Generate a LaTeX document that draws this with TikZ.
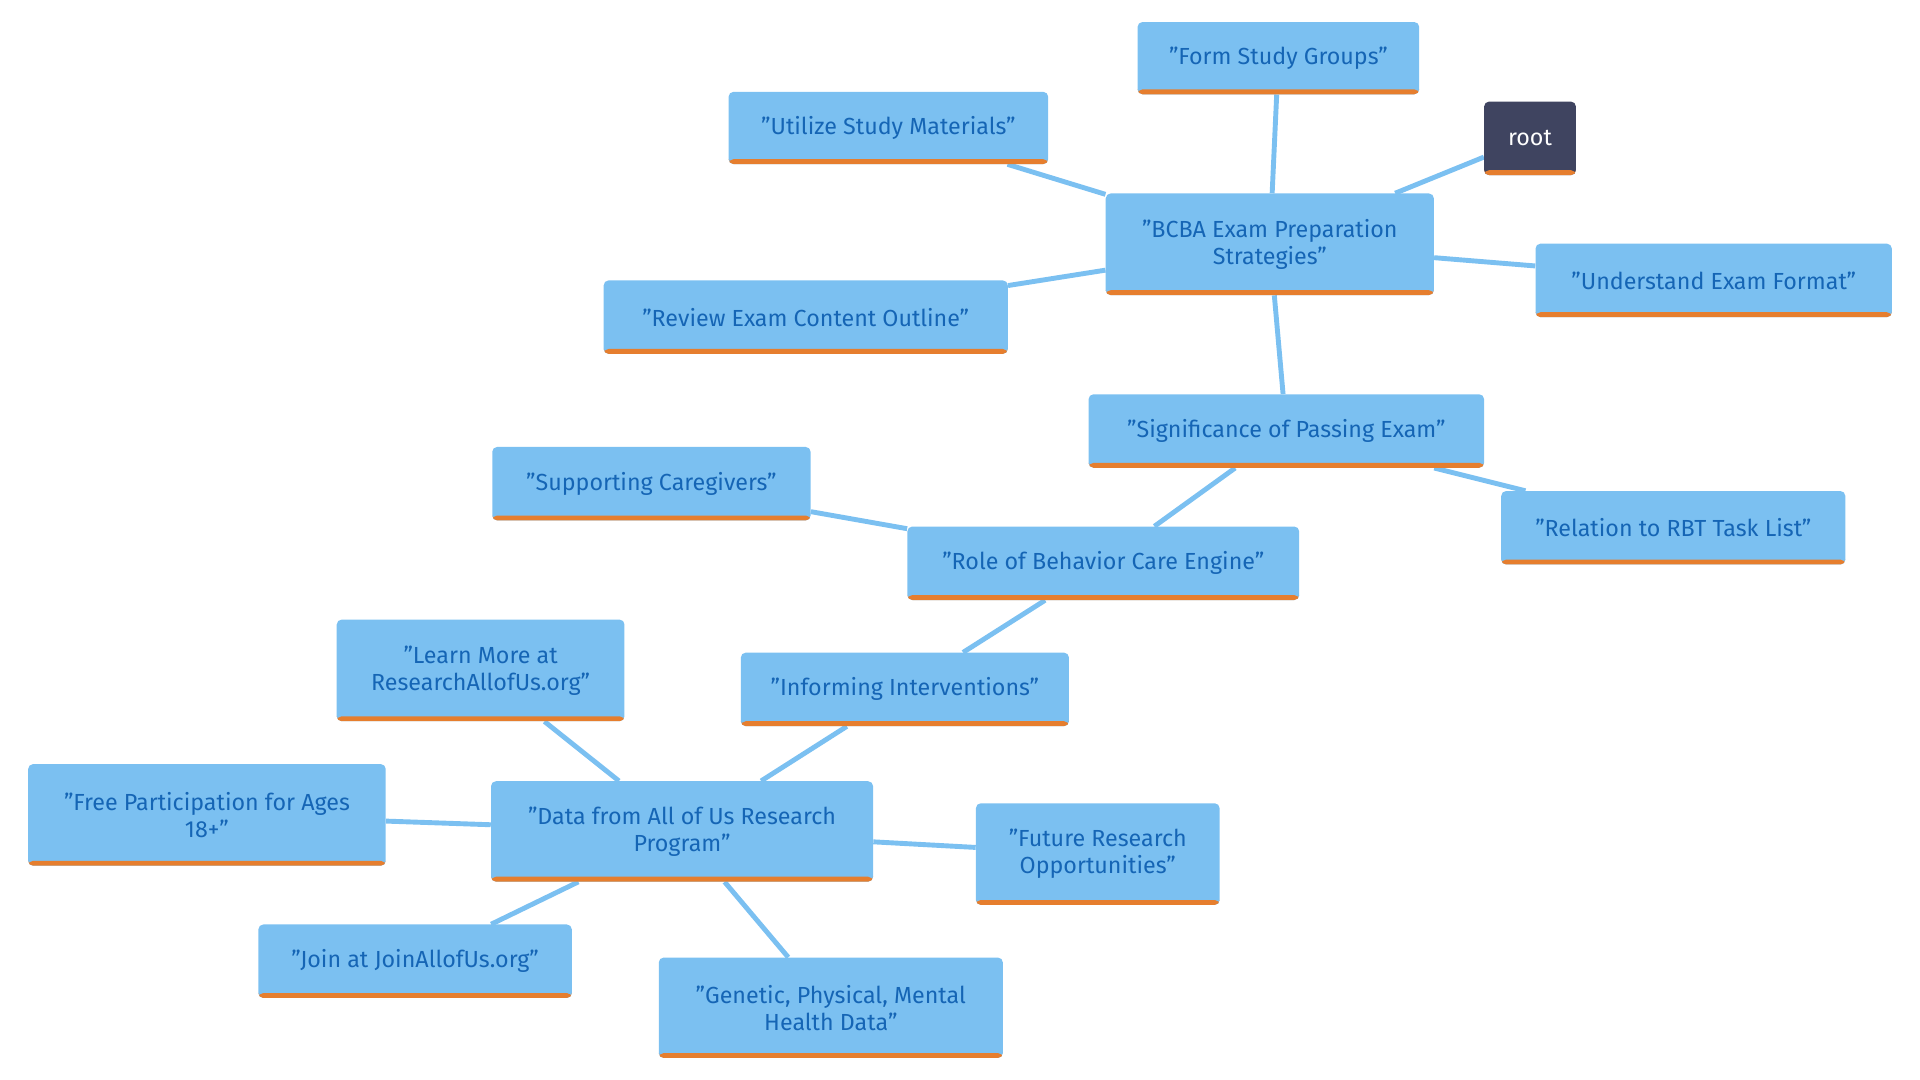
\documentclass[tikz,border=0pt]{standalone}
\usepackage{fontspec}
\setmainfont{Fira Sans}
\usetikzlibrary{backgrounds}
\definecolor{boxblue}{HTML}{7BC0F1}
\definecolor{txtblue}{HTML}{1565B5}
\definecolor{barorange}{HTML}{E67E2E}
\definecolor{rootgrey}{HTML}{3F4460}
\tikzset{
  box/.style={fill=boxblue,text=txtblue,rounded corners=4pt,inner sep=0pt,align=center,
    font=\fontsize{19}{22}\selectfont,
    path picture={\fill[barorange] ([yshift=4pt]path picture bounding box.south west) rectangle (path picture bounding box.south east);}},
  rootbox/.style={box,fill=rootgrey,text=white},
  link/.style={draw=boxblue,line width=4pt}
}
\newcommand{\bx}[6][box]{\node[#1,minimum width=#4pt,minimum height=#5pt] (#2) at (#3) {#6};}
\begin{document}
\begin{tikzpicture}[x=1pt,y=-1pt]
\useasboundingbox (0,0) rectangle (1568,882);
\bx[rootbox]{root}{1249.5,113}{75}{60}{root}
\bx{bcba}{1037,199.5}{268}{83}{"BCBA Exam Preparation\\Strategies"}
\bx{form}{1044,47.5}{230}{59}{"Form Study Groups"}
\bx{util}{725.5,104.5}{261}{59}{"Utilize Study Materials"}
\bx{review}{658,259}{330}{60}{"Review Exam Content Outline"}
\bx{underst}{1399.5,229}{291}{60}{"Understand Exam Format"}
\bx{signif}{1050.5,352}{323}{60}{"Significance of Passing Exam"}
\bx{relation}{1366.5,431}{281}{60}{"Relation to RBT Task List"}
\bx{role}{901,460}{320}{60}{"Role of Behavior Care Engine"}
\bx{support}{532,395}{260}{60}{"Supporting Caregivers"}
\bx{inform}{739,563}{268}{60}{"Informing Interventions"}
\bx{data}{557,679}{312}{82}{"Data from All of Us Research\\Program"}
\bx{learn}{392.5,547.5}{235}{83}{"Learn More at\\ResearchAllofUs.org"}
\bx{free}{169,665.5}{292}{83}{"Free Participation for Ages\\18+"}
\bx{future}{896.5,697.5}{199}{83}{"Future Research\\Opportunities"}
\bx{join}{339,785}{256}{60}{"Join at JoinAllofUs.org"}
\bx{genetic}{678.5,823}{281}{82}{"Genetic, Physical, Mental\\Health Data"}
\begin{scope}[on background layer]
\foreach \a/\b in {root/bcba,bcba/form,bcba/util,bcba/review,bcba/underst,bcba/signif,
  signif/relation,signif/role,role/support,role/inform,inform/data,
  data/learn,data/free,data/future,data/join,data/genetic}
  \draw[link] (\a) -- (\b);
\end{scope}
\end{tikzpicture}
\end{document}
